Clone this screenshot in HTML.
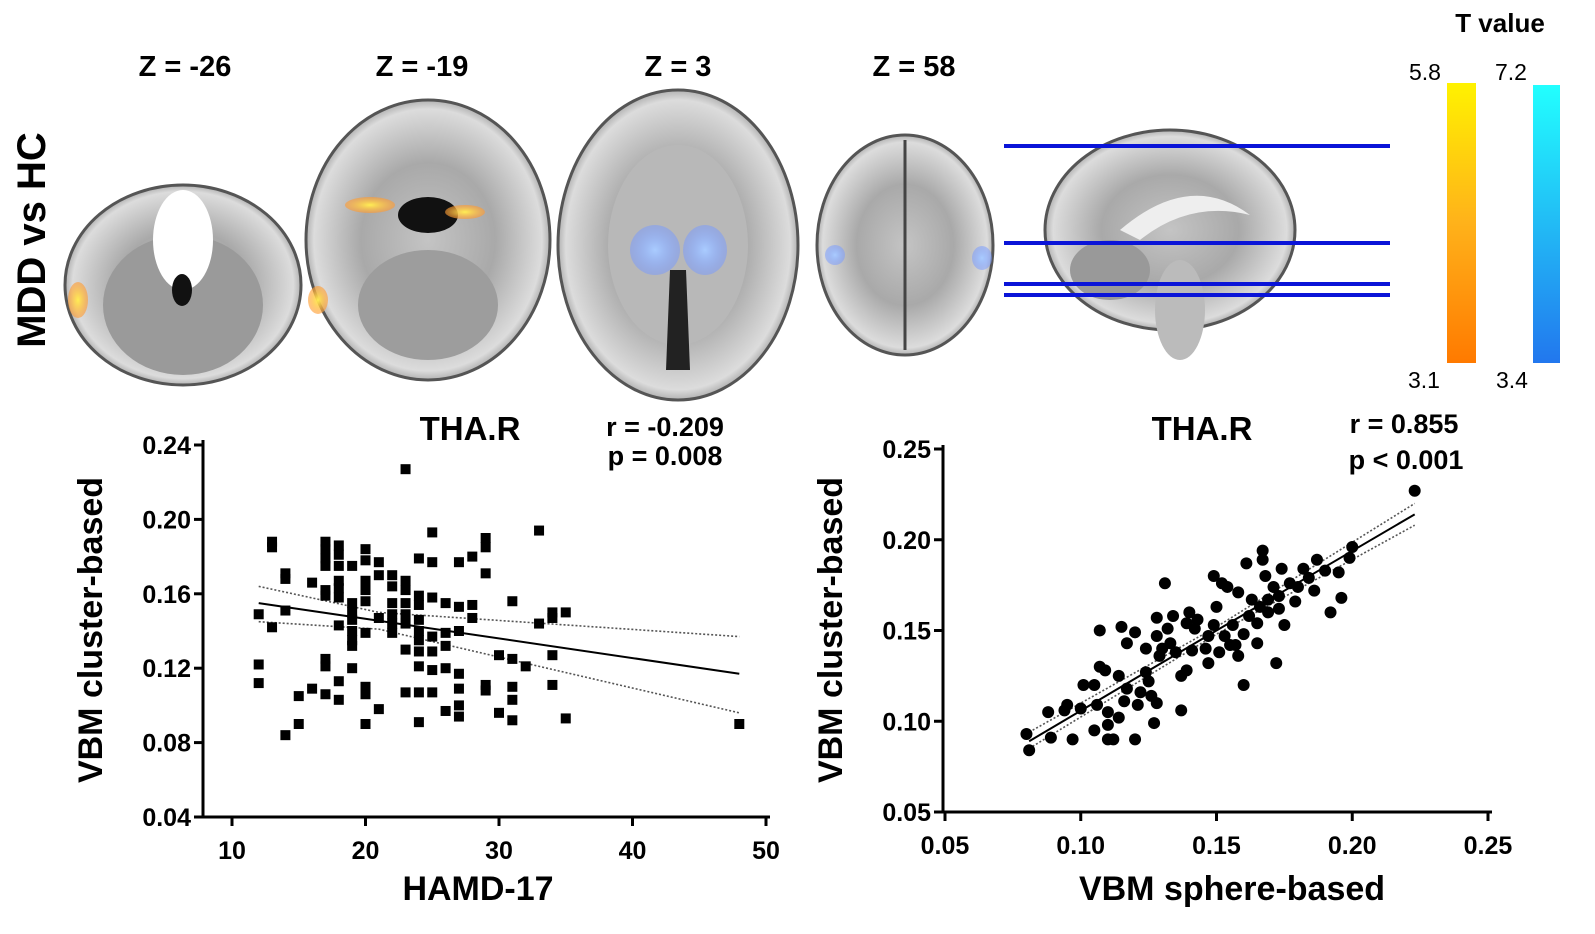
<!DOCTYPE html>
<html><head><meta charset="utf-8">
<style>
html,body{margin:0;padding:0;background:#fff;}
body{width:1595px;height:934px;overflow:hidden;position:relative;font-family:"Liberation Sans",Arial,sans-serif;}
svg{position:absolute;left:0;top:0;}
text{font-family:"Liberation Sans",Arial,sans-serif;}
</style></head>
<body>
<svg id="fig" width="1595" height="934" viewBox="0 0 1595 934">
<defs>
<radialGradient id="brainG" cx="50%" cy="50%" r="55%">
<stop offset="0" stop-color="#c4c4c4"/><stop offset="0.5" stop-color="#a9a9a9"/><stop offset="0.85" stop-color="#dcdcdc"/><stop offset="1" stop-color="#707070"/>
</radialGradient>
<radialGradient id="hotG" cx="50%" cy="50%" r="50%"><stop offset="0" stop-color="#ffee55"/><stop offset="1" stop-color="#ff9933" stop-opacity="0.6"/></radialGradient>
<radialGradient id="coolG" cx="50%" cy="50%" r="50%"><stop offset="0" stop-color="#aaccff"/><stop offset="1" stop-color="#7799ff" stop-opacity="0.5"/></radialGradient>
<linearGradient id="hotBar" x1="0" y1="0" x2="0" y2="1"><stop offset="0" stop-color="#fff200"/><stop offset="0.5" stop-color="#ffb21a"/><stop offset="1" stop-color="#ff7a00"/></linearGradient>
<linearGradient id="coolBar" x1="0" y1="0" x2="0" y2="1"><stop offset="0" stop-color="#22ffff"/><stop offset="0.5" stop-color="#22bbf5"/><stop offset="1" stop-color="#2277ee"/></linearGradient>
</defs>

<g>
<text x="45" y="240" transform="rotate(-90 45 240)" text-anchor="middle" font-size="40" font-weight="bold">MDD vs HC</text>
<text x="185" y="76" text-anchor="middle" font-size="29" font-weight="bold">Z = -26</text>
<text x="422" y="76" text-anchor="middle" font-size="29" font-weight="bold">Z = -19</text>
<text x="678" y="76" text-anchor="middle" font-size="29" font-weight="bold">Z = 3</text>
<text x="914" y="76" text-anchor="middle" font-size="29" font-weight="bold">Z = 58</text>

<g>
<ellipse cx="183" cy="285" rx="118" ry="100" fill="url(#brainG)" stroke="#555" stroke-width="3"/>
<ellipse cx="183" cy="305" rx="80" ry="70" fill="#9a9a9a"/>
<ellipse cx="183" cy="240" rx="30" ry="50" fill="#fff"/>
<ellipse cx="182" cy="290" rx="10" ry="16" fill="#111"/>
<ellipse cx="78" cy="300" rx="10" ry="18" fill="url(#hotG)"/>
</g>
<g>
<ellipse cx="428" cy="240" rx="122" ry="140" fill="url(#brainG)" stroke="#555" stroke-width="3"/>
<ellipse cx="428" cy="305" rx="70" ry="55" fill="#9d9d9d"/>
<ellipse cx="428" cy="215" rx="30" ry="18" fill="#111"/>
<ellipse cx="370" cy="205" rx="25" ry="8" fill="url(#hotG)"/>
<ellipse cx="465" cy="212" rx="20" ry="7" fill="url(#hotG)"/>
<ellipse cx="318" cy="300" rx="10" ry="14" fill="url(#hotG)"/>
</g>
<g>
<ellipse cx="678" cy="245" rx="120" ry="155" fill="url(#brainG)" stroke="#555" stroke-width="3"/>
<ellipse cx="678" cy="245" rx="70" ry="100" fill="#b8b8b8"/>
<path d="M670 270 L686 270 L690 370 L666 370 Z" fill="#222"/>
<ellipse cx="655" cy="250" rx="25" ry="25" fill="url(#coolG)"/>
<ellipse cx="705" cy="250" rx="22" ry="25" fill="url(#coolG)"/>
</g>
<g>
<ellipse cx="905" cy="245" rx="88" ry="110" fill="url(#brainG)" stroke="#555" stroke-width="3"/>
<line x1="905" y1="140" x2="905" y2="350" stroke="#444" stroke-width="3"/>
<ellipse cx="835" cy="255" rx="10" ry="10" fill="url(#coolG)"/>
<ellipse cx="982" cy="258" rx="10" ry="12" fill="url(#coolG)"/>
</g>
<g>
<ellipse cx="1170" cy="230" rx="125" ry="100" fill="url(#brainG)" stroke="#555" stroke-width="3"/>
<path d="M1120 230 Q1190 170 1250 215 Q1190 200 1140 240 Z" fill="#eee"/>
<ellipse cx="1180" cy="310" rx="25" ry="50" fill="#bbb"/>
<ellipse cx="1110" cy="270" rx="40" ry="30" fill="#999"/>
</g>
<g>
<rect x="1004" y="144" width="386" height="4" fill="#0a14d8"/>
<rect x="1004" y="241" width="386" height="4" fill="#0a14d8"/>
<rect x="1004" y="282" width="386" height="4" fill="#0a14d8"/>
<rect x="1004" y="293" width="386" height="4" fill="#0a14d8"/>
</g>
<g>
<text x="1500" y="32" text-anchor="middle" font-size="26" font-weight="bold">T value</text>
<text x="1425" y="80" text-anchor="middle" font-size="23">5.8</text>
<text x="1511" y="80" text-anchor="middle" font-size="23">7.2</text>
<text x="1424" y="388" text-anchor="middle" font-size="23">3.1</text>
<text x="1512" y="388" text-anchor="middle" font-size="23">3.4</text>
<rect x="1447" y="83" width="29" height="280" fill="url(#hotBar)"/>
<rect x="1533" y="85" width="27" height="278" fill="url(#coolBar)"/>
</g>
</g>

<g id="chartA"></g>
<g id="chartB"></g>
</svg>

<script>
// ---- Chart A data (HAMD-17 vs VBM cluster-based) ----
const hamdX = [12,12,12,13,13,13,14,14,14,14,15,15,16,16,
17,17,17,17,17,17,17,17,17,18,18,18,18,18,18,18,18,18,
19,19,19,19,19,19,19,19,20,20,20,20,20,20,20,20,20,21,21,21,21,
22,22,22,22,22,22,23,23,23,23,23,23,23,23,
24,24,24,24,24,24,24,24,24,24,25,25,25,25,25,25,25,
26,26,26,26,26,27,27,27,27,27,27,27,28,28,28,29,29,29,29,29,
30,30,31,31,31,31,31,32,33,33,34,34,34,34,35,35,48];
const hamdY = [0.149,0.122,0.112,0.188,0.185,0.142,0.171,0.168,0.151,0.084,0.105,0.090,0.166,0.109,
0.188,0.184,0.179,0.175,0.162,0.159,0.125,0.121,0.106,0.186,0.181,0.175,0.167,0.163,0.158,0.143,0.113,0.103,
0.175,0.155,0.150,0.146,0.140,0.135,0.132,0.120,0.184,0.178,0.167,0.162,0.156,0.139,0.110,0.106,0.090,0.177,0.170,0.147,0.098,
0.170,0.164,0.155,0.149,0.144,0.139,0.227,0.167,0.162,0.155,0.149,0.144,0.130,0.107,
0.179,0.159,0.154,0.146,0.140,0.135,0.129,0.121,0.107,0.091,0.193,0.177,0.158,0.137,0.129,0.119,0.107,
0.155,0.139,0.132,0.120,0.097,0.177,0.153,0.140,0.117,0.109,0.100,0.094,0.180,0.154,0.147,0.190,0.185,0.171,0.111,0.108,
0.127,0.096,0.156,0.125,0.110,0.103,0.092,0.121,0.194,0.144,0.150,0.147,0.127,0.111,0.150,0.093,0.090];
const fitAX = [12,21,48];
const fitAY = [0.155,0.1455,0.117];
const fitAHi = [0.164,0.150,0.137];
const fitALo = [0.145,0.141,0.096];
const ticksAX = [10,20,30,40,50];
const ticksAY = [0.04,0.08,0.12,0.16,0.20,0.24];

// ---- Chart B data (VBM sphere-based vs VBM cluster-based) ----
const sphX = [0.080,0.081,0.088,0.089,0.094,0.095,0.097,0.100,0.101,0.105,0.105,0.106,0.107,0.107,0.109,0.110,0.110,0.110,0.112,0.114,0.114,0.115,0.116,0.117,0.117,0.120,0.120,0.121,0.122,0.124,0.124,0.125,0.126,0.127,0.128,0.128,0.129,0.128,0.130,0.131,0.132,0.133,0.134,0.135,0.137,0.137,0.139,0.139,0.140,0.141,0.142,0.143,0.146,0.147,0.147,0.149,0.149,0.150,0.151,0.152,0.153,0.154,0.155,0.156,0.157,0.158,0.158,0.160,0.160,0.161,0.162,0.163,0.165,0.165,0.166,0.167,0.167,0.168,0.169,0.169,0.171,0.172,0.173,0.173,0.174,0.175,0.177,0.179,0.180,0.182,0.184,0.186,0.187,0.190,0.192,0.195,0.196,0.199,0.200,0.223];
const clusY = [0.093,0.084,0.105,0.091,0.106,0.109,0.090,0.107,0.120,0.120,0.095,0.109,0.150,0.130,0.128,0.105,0.098,0.090,0.090,0.125,0.102,0.152,0.111,0.118,0.143,0.149,0.090,0.109,0.116,0.140,0.127,0.122,0.114,0.099,0.157,0.147,0.136,0.110,0.140,0.176,0.151,0.143,0.158,0.138,0.106,0.125,0.128,0.154,0.160,0.139,0.151,0.156,0.140,0.132,0.147,0.153,0.180,0.163,0.138,0.176,0.147,0.174,0.142,0.153,0.142,0.136,0.171,0.148,0.120,0.187,0.158,0.167,0.143,0.154,0.163,0.194,0.189,0.180,0.160,0.167,0.174,0.132,0.162,0.169,0.184,0.153,0.176,0.166,0.174,0.184,0.179,0.172,0.189,0.183,0.160,0.182,0.168,0.190,0.196,0.227];
const fitBX = [0.081,0.150,0.223];
const fitBY = [0.089,0.150,0.214];
const fitBHi = [0.094,0.152,0.220];
const fitBLo = [0.085,0.148,0.208];
const ticksBX = [0.05,0.10,0.15,0.20,0.25];
const ticksBY = [0.05,0.10,0.15,0.20,0.25];

const NS = 'http://www.w3.org/2000/svg';
function mk(parent, tag, attrs){const e=document.createElementNS(NS,tag);for(const k in attrs)e.setAttribute(k,attrs[k]);parent.appendChild(e);return e;}
function lin(d0,d1,r0,r1){return v=>r0+(v-d0)/(d1-d0)*(r1-r0);}

function drawChart(g, cfg){
  const sx=cfg.sx, sy=cfg.sy;
  const ya=mk(g,'line',{x1:cfg.ox,y1:cfg.top,x2:cfg.ox,y2:cfg.oy,stroke:'#000','stroke-width':3});
  
  
  const xa=mk(g,'line',{x1:cfg.ox,y1:cfg.oy,x2:cfg.right,y2:cfg.oy,stroke:'#000','stroke-width':3});
  
  
  cfg.ty.forEach(v=>{
    const y=sy(v);
    mk(g,'line',{x1:cfg.ox-9,y1:y,x2:cfg.ox,y2:y,stroke:'#000','stroke-width':3});
    const t=mk(g,'text',{x:cfg.ox-12,y:y+9,'text-anchor':'end','font-size':25,'font-weight':'bold'});
    t.textContent=v.toFixed(2);
    
    
  });
  cfg.tx.forEach(v=>{
    const x=sx(v);
    mk(g,'line',{x1:x,y1:cfg.oy,x2:x,y2:cfg.oy+9,stroke:'#000','stroke-width':3});
    const t=mk(g,'text',{x:x,y:cfg.oy+42,'text-anchor':'middle','font-size':25,'font-weight':'bold'});
    t.textContent=cfg.fmt(v);
    
    
  });
  [cfg.hi,cfg.lo].forEach(arr=>{
    const p=mk(g,'polyline',{points:cfg.fx.map((x,i)=>sx(x)+','+sy(arr[i])).join(' '),fill:'none',stroke:'#555','stroke-width':1.6,'stroke-dasharray':'2,2'});
    
    
  });
  cfg.px.forEach((x,i)=>{
    let m;
    if(cfg.shape==='square'){m=mk(g,'rect',{x:sx(x)-5,y:sy(cfg.py[i])-5,width:10,height:10,fill:'#000'});}
    else {m=mk(g,'circle',{cx:sx(x),cy:sy(cfg.py[i]),r:6,fill:'#000'});}
    
    
  });
  const f=mk(g,'polyline',{points:cfg.fx.map((x,i)=>sx(x)+','+sy(cfg.fy[i])).join(' '),fill:'none',stroke:'#000','stroke-width':2});
  
  
}

const gA=document.getElementById('chartA');
drawChart(gA,{sx:lin(10,50,232,766),sy:lin(0.04,0.24,817,445),ox:203,oy:817,top:440,right:770,
  tx:ticksAX,ty:ticksAY,fmt:v=>String(v),px:hamdX,py:hamdY,fx:fitAX,fy:fitAY,hi:fitAHi,lo:fitALo,shape:'square'});
const gB=document.getElementById('chartB');
drawChart(gB,{sx:lin(0.05,0.25,945,1488),sy:lin(0.05,0.25,812,449),ox:943,oy:812,top:445,right:1492,
  tx:ticksBX,ty:ticksBY,fmt:v=>v.toFixed(2),px:sphX,py:clusY,fx:fitBX,fy:fitBY,hi:fitBHi,lo:fitBLo,shape:'circle'});

function label(g,x,y,txt,size,name,rot){
  const t=mk(g,'text',{x:x,y:y,'text-anchor':'middle','font-size':size,'font-weight':'bold'});
  if(rot)t.setAttribute('transform','rotate(-90 '+x+' '+y+')');
  t.textContent=txt;
  
  
}
label(gA,470,440,'THA.R',33,'chart-title');
label(gA,665,436,'r = -0.209',27,'correlation-r');
label(gA,665,465,'p = 0.008',27,'correlation-p');
label(gA,102,630,'VBM cluster-based',34,'y-axis-title',true);
label(gA,478,900,'HAMD-17',34,'x-axis-title');
label(gB,1202,440,'THA.R',33,'chart-title');
label(gB,1404,433,'r = 0.855',27,'correlation-r');
label(gB,1406,469,'p < 0.001',27,'correlation-p');
label(gB,842,630,'VBM cluster-based',34,'y-axis-title',true);
label(gB,1232,900,'VBM sphere-based',34,'x-axis-title');
</script>
</body></html>
